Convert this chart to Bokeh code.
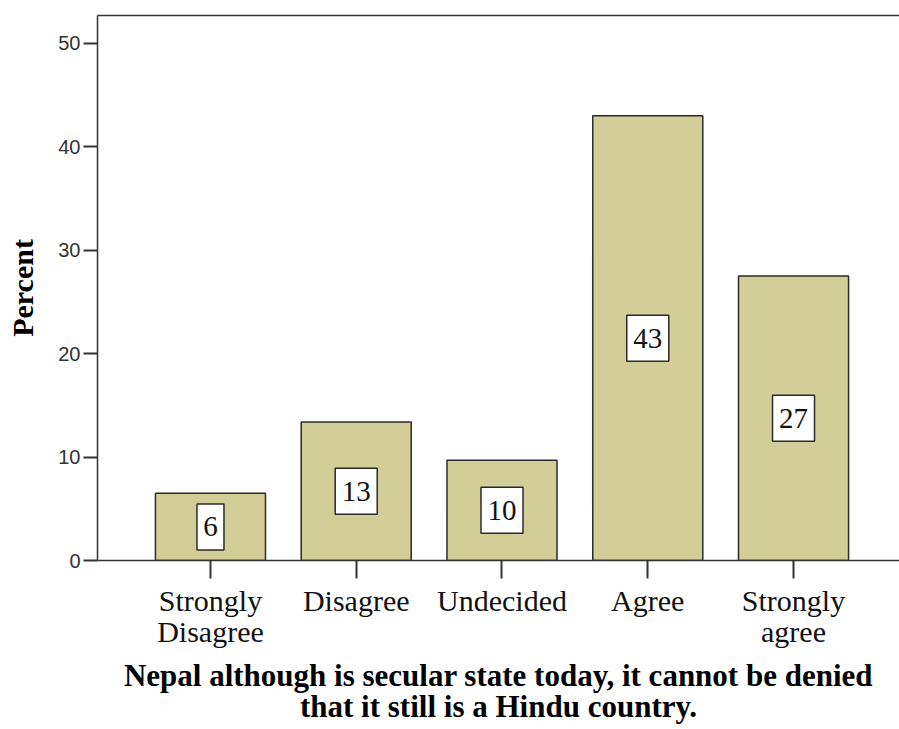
from bokeh.plotting import figure
from bokeh.models import Range1d, FixedTicker, LinearAxis, ColumnDataSource
from bokeh.core.properties import value
from bokeh.embed import file_html
from bokeh.resources import INLINE

categories = ["Strongly\nDisagree", "Disagree", "Undecided", "Agree", "Strongly\nagree"]
percent = [6.5, 13.4, 9.7, 43.0, 27.5]
bar_labels = ["6", "13", "10", "43", "27"]
y_ticks = [0, 10, 20, 30, 40, 50]
x_title = "Nepal although is secular state today, it cannot be denied\nthat it still is a Hindu country."
y_title = "Percent"

xs = list(range(1, len(categories) + 1))
src = ColumnDataSource(dict(
    x=xs,
    percent=percent,
    mid=[v / 2 for v in percent],
    labels=bar_labels,
    bw=[12 + 15 * len(s) for s in bar_labels],
))

p = figure(width=899, height=729,
           x_range=Range1d(0.225, 5.727), y_range=Range1d(0, 52.7),
           output_backend="svg", toolbar_location=None,
           min_border_left=97, min_border_right=0, min_border_top=15, min_border_bottom=169)

p.vbar(x="x", top="percent", width=0.755, source=src,
       fill_color="#d3ce97", line_color="#2b2b2b", line_width=1.5)
p.rect(x="x", y="mid", width="bw", height=46, width_units="screen", height_units="screen",
       source=src, fill_color="white", line_color="#2b2b2b", line_width=1.5)
p.text(x="x", y="mid", text="labels", source=src, text_align="center", text_baseline="middle",
       text_font=value("Liberation Serif"), text_font_size="29px", text_color="#111111")

p.grid.visible = False
p.outline_line_color = None
p.background_fill_color = "white"
p.border_fill_color = "white"

# x axis
xa = p.xaxis[0]
xa.ticker = FixedTicker(ticks=xs)
xa.major_label_overrides = {i: c for i, c in zip(xs, categories)}
xa.major_tick_out = 18
xa.major_tick_in = 0
xa.minor_tick_line_color = None
xa.major_tick_line_color = "#333333"
xa.major_tick_line_width = 2
xa.axis_line_color = "#333333"
xa.axis_line_width = 1.5
xa.major_label_text_font = "Liberation Serif"
xa.major_label_text_font_size = "30px"
xa.major_label_text_color = "#111111"
xa.major_label_text_line_height = 0.95
xa.major_label_standoff = 5
xa.axis_label = x_title
xa.axis_label_text_font = "Liberation Serif"
xa.axis_label_text_font_style = "bold"
xa.axis_label_text_font_size = "31px"
xa.axis_label_text_color = "#000000"
xa.axis_label_text_line_height = 0.88
xa.axis_label_standoff = 7

# y axis
ya = p.yaxis[0]
ya.ticker = FixedTicker(ticks=y_ticks)
ya.major_tick_out = 14
ya.major_tick_in = 0
ya.minor_tick_line_color = None
ya.major_tick_line_color = "#333333"
ya.major_tick_line_width = 2
ya.axis_line_color = "#333333"
ya.axis_line_width = 1.5
ya.major_label_text_font = "Liberation Sans"
ya.major_label_text_font_size = "20px"
ya.major_label_text_color = "#333333"
ya.major_label_standoff = 3
ya.axis_label = y_title
ya.axis_label_text_font = "Liberation Serif"
ya.axis_label_text_font_style = "bold"
ya.axis_label_text_font_size = "30px"
ya.axis_label_text_color = "#000000"
ya.axis_label_standoff = 16

# top border line
top = LinearAxis(ticker=FixedTicker(ticks=[]), axis_line_color="#333333", axis_line_width=1.5,
                 major_tick_out=0, major_tick_in=0, minor_tick_out=0, minor_tick_in=0,
                 major_label_standoff=0, axis_label_standoff=0,
                 major_label_text_font_size="0px")
p.add_layout(top, "above")

open("out.html", "w").write(file_html(p, INLINE))
